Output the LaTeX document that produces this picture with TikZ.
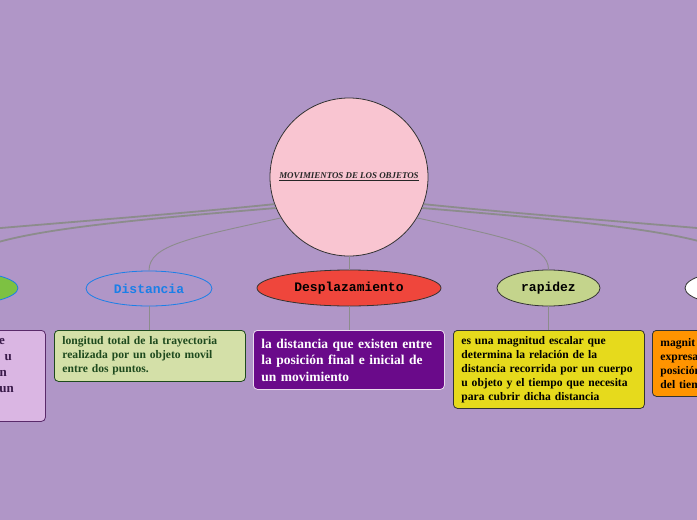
\documentclass[tikz,border=0pt]{standalone}
\usepackage{fontspec}
\setmainfont{Liberation Serif}
\newfontfamily\monof{Liberation Mono}
\usetikzlibrary{shapes.geometric}
\definecolor{bg}{HTML}{B096C7}
\definecolor{pinkc}{HTML}{F9C5D1}
\definecolor{lineg}{HTML}{8C8C8C}
\definecolor{greenell}{HTML}{7DC142}
\definecolor{bluebd}{HTML}{1A7FE8}
\definecolor{redell}{HTML}{EF463C}
\definecolor{olivell}{HTML}{C4D48C}
\definecolor{lgreenbox}{HTML}{D4E0A8}
\definecolor{dgreen}{HTML}{1E4A1E}
\definecolor{purpbox}{HTML}{6A0A8A}
\definecolor{yelbox}{HTML}{E6DA1C}
\definecolor{orbox}{HTML}{FF9400}
\definecolor{lilbox}{HTML}{DAB6E3}
\definecolor{lilbd}{HTML}{5A2A6A}
\definecolor{liltext}{HTML}{3A1A4A}
\begin{document}
\begin{tikzpicture}[x=1pt,y=-1pt,
  mainlink/.style={draw=lineg,line width=1.8pt},
  sublink/.style={draw=lineg,line width=0.9pt},
  topic/.style={ellipse,draw,line width=0.8pt,inner sep=0pt,font=\monof\bfseries\fontsize{13}{15}\selectfont},
  infobox/.style={rectangle,rounded corners=4pt,draw,line width=0.8pt,anchor=north west,align=left,inner xsep=8pt,inner ysep=4pt,font=\bfseries\fontsize{11.6}{14}\selectfont},
  frag/.style={anchor=base east,font=\bfseries\fontsize{13}{16}\selectfont,text=liltext,inner sep=0pt}
]
\useasboundingbox (0,0) rectangle (697,520);
\clip (0,0) rectangle (697,520);
\fill[bg] (0,0) rectangle (697,520);

% central circle
\node[circle,draw=black!80,line width=0.8pt,fill=pinkc,minimum size=158pt,inner sep=0pt,
  font=\bfseries\itshape\fontsize{8.9}{10}\selectfont,text=black!85] (c) at (349,177) {\underline{MOVIMIENTOS DE LOS OBJETOS}};

% topic ellipses
\node[topic,draw=bluebd,fill=greenell,minimum width=126pt,minimum height=34pt] (g) at (-45,288) {};
\node[topic,draw=bluebd,text=bluebd,minimum width=126pt,minimum height=35pt] (d) at (149,288.5) {Distancia};
\node[topic,draw=black!80,fill=redell,minimum width=184pt,minimum height=36pt] (p) at (349,288) {Desplazamiento};
\node[topic,draw=black!80,fill=olivell,minimum width=103pt,minimum height=36pt] (r) at (548.5,288) {rapidez};
\node[topic,draw=black!80,fill=white,minimum width=120pt,minimum height=36pt] (w) at (745,288) {};

% connectors
\path[mainlink] (c.200) .. controls (40,228) and (-250,240) .. (-250,271);
\path[mainlink] (c.203) .. controls (110,222) and (-45,234) .. (g.north);
\path[sublink] (c.211) .. controls (190,238) and (149,245) .. (d.north);
\path[sublink] (c.south) -- (p.north);
\path[sublink] (c.329) .. controls (508,238) and (548.5,245) .. (r.north);
\path[mainlink] (c.-23) .. controls (588,222) and (745,234) .. (w.north);
\path[mainlink] (c.-20) .. controls (658,228) and (948,240) .. (948,271);

% boxes
\node[infobox,draw=lilbd,fill=lilbox,text=liltext,minimum width=190pt,minimum height=91pt,text width=174pt] (lb) at (-145,330) {};
\node[frag] (l1) at (5,344) {e};
\node[frag] (l2) at (12,360) {u};
\node[frag] (l3) at (7,376) {n};
\node[frag] (l4) at (14,392) {un};

\node[infobox,draw=dgreen,fill=lgreenbox,text=dgreen,minimum width=191pt,minimum height=51pt,text width=175pt] (db) at (54,330)
 {longitud total de la trayectoria\\realizada por un objeto movil\\entre dos puntos.};
\node[infobox,draw=white!85!purpbox,fill=purpbox,text=white,minimum width=191pt,minimum height=59pt,text width=175pt,
  font=\bfseries\fontsize{13.5}{16.5}\selectfont] (pb) at (253,330)
 {la distancia que existen entre\\la posición final e inicial de\\un movimiento};
\node[infobox,draw=black!80,fill=yelbox,text=black,minimum width=191pt,minimum height=78pt,text width=175pt] (rb) at (453,330)
 {es una magnitud escalar que\\determina la relación de la\\distancia recorrida por un cuerpo\\u objeto y el tiempo que necesita\\para cubrir dicha distancia};
\node[infobox,draw=black!80,fill=orbox,text=black,minimum width=191pt,minimum height=66pt,text width=175pt] (ob) at (652,330)
 {magnit\\expresa\\posición\\del tiem};

\path[sublink] (d.south) -- (db.north -| d.south);
\path[sublink] (p.south) -- (pb.north -| p.south);
\path[sublink] (r.south) -- (rb.north -| r.south);
\end{tikzpicture}
\end{document}
